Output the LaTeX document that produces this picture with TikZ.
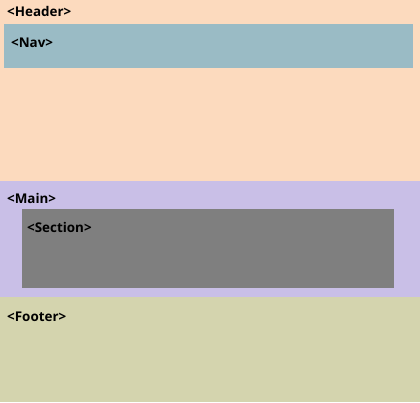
\documentclass[tikz,border=0pt]{standalone}
\usepackage{fontspec}
\setmainfont{Open Sans}
\usepackage{tikz}
\usetikzlibrary{positioning}
\definecolor{headerfill}{HTML}{FCDABE}
\definecolor{navfill}{HTML}{9ABBC5}
\definecolor{mainfill}{HTML}{C9BFE7}
\definecolor{sectionfill}{HTML}{7F7F7F}
\definecolor{footerfill}{HTML}{D4D4AE}

\begin{document}
\begin{tikzpicture}[
    x=1pt, y=-1pt,
    font=\bfseries\fontsize{13.4}{15}\selectfont,
    region/.style={
        rectangle,
        anchor=north west,
        inner sep=0pt,
        outer sep=0pt,
        draw=none
    },
    tag/.style={
        anchor=west,
        inner sep=0pt,
        text=black
    }
]
\useasboundingbox (0,0) rectangle (420,402);

% page regions
\node[region, fill=headerfill, minimum width=420pt, minimum height=181pt] (header) at (0,0) {};
\node[region, fill=mainfill, minimum width=420pt, minimum height=116pt] (main) at (0,181) {};
\node[region, fill=footerfill, minimum width=420pt, minimum height=105pt] (footer) at (0,297) {};

% inner blocks
\node[region, fill=navfill, minimum width=409pt, minimum height=44pt] (nav) at (4,24) {};
\node[region, fill=sectionfill, minimum width=372pt, minimum height=79pt] (section) at (22,209) {};

% labels
\node[tag] (headertag) at (7,11) {<Header>};
\node[tag] (navtag) at (11,43) {<Nav>};
\node[tag] (maintag) at (7,198) {<Main>};
\node[tag] (sectiontag) at (27,227) {<Section>};
\node[tag] (footertag) at (7,317) {<Footer>};

\end{tikzpicture}
\end{document}
